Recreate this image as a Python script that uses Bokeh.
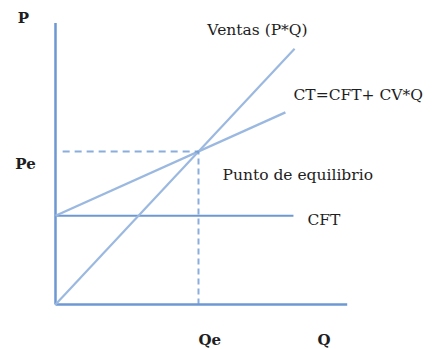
from bokeh.plotting import figure
from bokeh.models import Range1d
from bokeh.embed import file_html
from bokeh.resources import INLINE
from bokeh.core.properties import value

# --- data (break-even model) ---
precio = 3.0          # P  (slope of Ventas)
cft = 8.7             # fixed cost
cv = 1.26             # variable cost per unit
q_ventas_end = 8.36
q_ct_end = 8.04
q_cft_end = 8.32
q_axis_end = 10.2
p_axis_end = 27.6

qe = cft / (precio - cv)
pe = precio * qe

labels = ["P", "Pe", "Ventas (P*Q)", "CT=CFT+ CV*Q", "Punto de equilibrio", "CFT", "Qe", "Q"]

FONT = value("DejaVu Serif")
AXIS_COL = "#6d98d2"
LINE_COL = "#9bb9e0"
TXT = "#1e1e1e"

p = figure(width=433, height=349, output_backend="svg", toolbar_location=None,
           x_range=Range1d(-1.923, 13.217), y_range=Range1d(-4.41, 29.8),
           min_border=0)
p.axis.visible = False
p.grid.visible = False
p.outline_line_color = None
p.background_fill_color = "white"
p.border_fill_color = "white"

# axes
p.line([0, 0], [0, p_axis_end], line_color=AXIS_COL, line_width=2.5)
p.line([0, q_axis_end], [0, 0], line_color=AXIS_COL, line_width=2.5)

# CFT
p.line([0, q_cft_end], [cft, cft], line_color=AXIS_COL, line_width=2.2)
# Ventas
p.line([0, q_ventas_end], [0, precio * q_ventas_end], line_color=LINE_COL, line_width=2.2)
# CT
p.line([0, q_ct_end], [cft, cft + cv * q_ct_end], line_color=LINE_COL, line_width=2.4)

# dashed guides
p.line([0.25, qe], [pe, pe], line_color=AXIS_COL, line_width=2, line_dash="7 5", line_alpha=0.8)
p.line([qe, qe], [0, pe], line_color=AXIS_COL, line_width=2, line_dash="6 4", line_alpha=0.8)

# labels
p.text(x=[-1.12], y=[28.04], text=[labels[0]], text_font=FONT, text_font_size="15px",
       text_font_style="bold", text_align="center", text_baseline="middle", text_color=TXT)
p.text(x=[-1.05], y=[pe], text=[labels[1]], text_font=FONT, text_font_size="15px",
       text_font_style="bold", text_align="center", text_baseline="middle", text_color=TXT,
       y_offset=13)
p.text(x=[5.31], y=[26.86], text=[labels[2]], text_font=FONT, text_font_size="15.5px",
       text_align="left", text_baseline="middle", text_color=TXT)
p.text(x=[8.32], y=[20.5], text=[labels[3]], text_font=FONT, text_font_size="15.5px",
       text_align="left", text_baseline="middle", text_color=TXT)
p.text(x=[5.84], y=[12.65], text=[labels[4]], text_font=FONT, text_font_size="15.5px",
       text_align="left", text_baseline="middle", text_color=TXT)
p.text(x=[8.81], y=[8.24], text=[labels[5]], text_font=FONT, text_font_size="15.5px",
       text_align="left", text_baseline="middle", text_color=TXT)
p.text(x=[qe], y=[0], text=[labels[6]], text_font=FONT, text_font_size="15px",
       text_font_style="bold", text_align="left", text_baseline="middle", text_color=TXT,
       y_offset=35)
p.text(x=[9.16], y=[0], text=[labels[7]], text_font=FONT, text_font_size="15px",
       text_font_style="bold", text_align="left", text_baseline="middle", text_color=TXT,
       y_offset=35)

open("out.html", "w").write(file_html(p, INLINE))
